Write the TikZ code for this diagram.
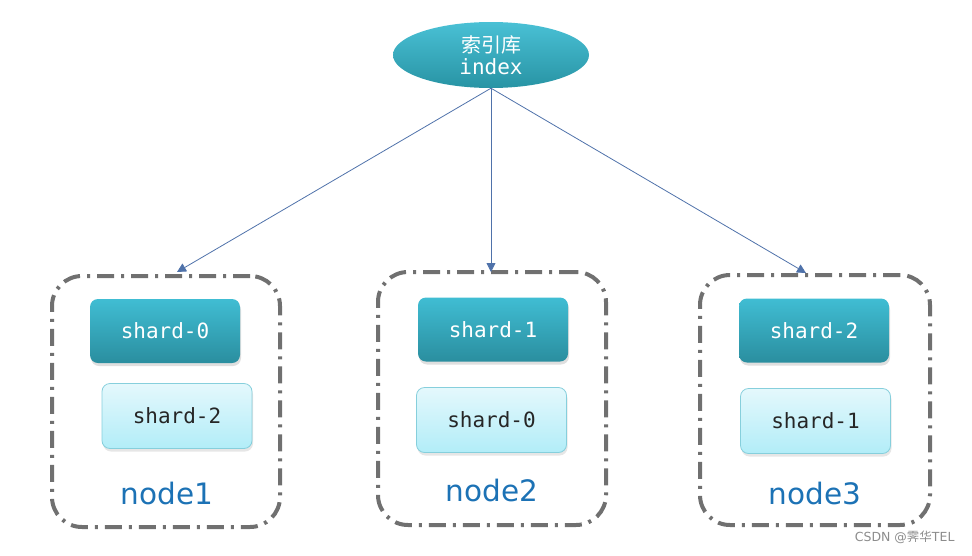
\documentclass[tikz,border=0pt]{standalone}
\usepackage{fontspec}
\setmainfont{DejaVu Sans}
\setmonofont{DejaVu Sans Mono}
\newfontfamily\cjk{Noto Sans CJK SC}
\usetikzlibrary{shapes.geometric,shadows,arrows.meta}
\definecolor{darktop}{HTML}{40BDD3}
\definecolor{darkbot}{HTML}{2A8E9F}
\definecolor{lighttop}{HTML}{E4F8FC}
\definecolor{lightbot}{HTML}{B2EDF8}
\definecolor{lightedge}{HTML}{86CFDC}
\definecolor{boxgray}{HTML}{707070}
\definecolor{arrowblue}{HTML}{4F72AA}
\definecolor{labelblue}{HTML}{1C72B5}
\tikzset{
  darkshard/.style={rectangle, rounded corners=8pt, minimum width=150pt, minimum height=64pt,
    top color=darktop, bottom color=darkbot, draw=none, text=white,
    font=\ttfamily\fontsize{21}{24}\selectfont,
    drop shadow={shadow xshift=1pt, shadow yshift=-3pt, opacity=0.25}},
  lightshard/.style={rectangle, rounded corners=8pt, minimum width=150pt, minimum height=65pt,
    top color=lighttop, bottom color=lightbot, draw=lightedge, line width=0.8pt, text=black!85,
    font=\ttfamily\fontsize{21}{24}\selectfont,
    drop shadow={shadow xshift=1pt, shadow yshift=-3pt, opacity=0.2}},
  hostbox/.style={rectangle, rounded corners=30pt, draw=boxgray, line width=4pt,
    dash pattern=on 17pt off 7pt on 3pt off 7pt},
  hostlabel/.style={text=labelblue, font=\fontsize{29.5}{33}\selectfont},
  conn/.style={draw=arrowblue, line width=0.8pt, -{Triangle[length=9pt,width=9pt]}}
}
\begin{document}
\begin{tikzpicture}[x=1pt,y=-1pt]
\useasboundingbox (0,0) rectangle (972,555);
% index ellipse
\node[ellipse, minimum width=196pt, minimum height=66pt, top color=darktop!95!white, bottom color=darkbot!95!cyan, draw=none,
  text=white, align=center, inner sep=0pt] (idx) at (491,55)
  {{\cjk\fontsize{20}{22}\selectfont 索引库}\\[3pt]{\ttfamily\fontsize{21}{24}\selectfont index}};
% host boxes
\node[hostbox, minimum width=228pt, minimum height=251pt] (n1) at (166,401.5) {};
\node[hostbox, minimum width=228pt, minimum height=253pt] (n2) at (492,398.5) {};
\node[hostbox, minimum width=230pt, minimum height=250pt] (n3) at (815,400) {};
% shards
\node[darkshard] (s10) at (165,331) {shard-0};
\node[lightshard] (s12) at (177,416) {shard-2};
\node[darkshard] (s21) at (493,329.5) {shard-1};
\node[lightshard] (s20) at (491.5,420) {shard-0};
\node[darkshard] (s32) at (814,330.5) {shard-2};
\node[lightshard] (s31) at (815.5,421) {shard-1};
% labels
\node[hostlabel] (l1) at (167,493) {node1};
\node[hostlabel] (l2) at (492,490) {node2};
\node[hostlabel] (l3) at (815,493) {node3};
% arrow targets
\coordinate (t1) at (177,272);
\coordinate (t2) at (491,272);
\coordinate (t3) at (806,273);
\draw[conn] (idx.south) -- (t1);
\draw[conn] (idx.south) -- (t2);
\draw[conn] (idx.south) -- (t3);
% watermark
\node[text=black!45, font=\fontsize{12.5}{14}\selectfont, anchor=east] (wm) at (958,537) {CSDN @{\cjk 霁华}TEL};
\end{tikzpicture}
\end{document}
